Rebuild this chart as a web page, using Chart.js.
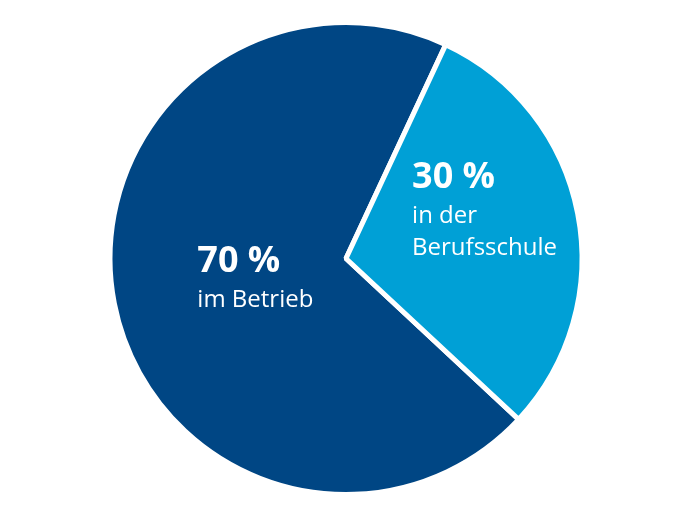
<!DOCTYPE html>
<html>
<head>
<meta charset="utf-8">
<script src="https://cdn.jsdelivr.net/npm/chart.js@4/dist/chart.umd.min.js"></script>
<style>
  html, body { margin: 0; padding: 0; background: #fff; }
  #wrap { width: 700px; height: 509px; }
</style>
</head>
<body>
<div id="wrap"><canvas id="grafico"></canvas></div>
<script>
const categorias = ['im Betrieb', 'in der Berufsschule'];
const valores = [70, 30];
const colores = ['#004684', '#00a0d6'];
const etiquetas = [['70 %', 'im Betrieb'], ['30 %', 'in der', 'Berufsschule']];

const textoEtiquetas = {
  id: 'textoEtiquetas',
  afterDatasetsDraw(chart) {
    const ctx = chart.ctx;
    const arcs = chart.getDatasetMeta(0).data;
    ctx.save();
    ctx.fillStyle = '#ffffff';
    ctx.textAlign = 'left';
    ctx.textBaseline = 'alphabetic';
    arcs.forEach((arc, i) => {
      const { x, y, outerRadius } = arc.getProps(['x', 'y', 'outerRadius'], true);
      let px, py;
      if (i === 0) { px = x - outerRadius * 0.63; py = y + 13; }
      else { px = x + outerRadius * 0.28; py = y - 71; }
      etiquetas[i].forEach((linea, j) => {
        if (j === 0) {
          ctx.font = 'bold 36px "Open Sans"';
          ctx.fillText(linea, px, py);
        } else {
          ctx.font = '24px "Open Sans"';
          ctx.fillText(linea, px, py + 35 + (j - 1) * 32);
        }
      });
    });
    ctx.restore();
  }
};

new Chart(document.getElementById('grafico'), {
  type: 'pie',
  data: {
    labels: categorias,
    datasets: [{
      data: valores,
      backgroundColor: colores,
      borderColor: '#ffffff',
      borderWidth: 5
    }]
  },
  options: {
    responsive: true,
    maintainAspectRatio: false,
    animation: false,
    rotation: 133,
    layout: { padding: { top: 20, bottom: 12, left: 0, right: 8 } },
    plugins: {
      legend: { display: false },
      tooltip: { enabled: false }
    }
  },
  plugins: [textoEtiquetas]
});
</script>
</body>
</html>
